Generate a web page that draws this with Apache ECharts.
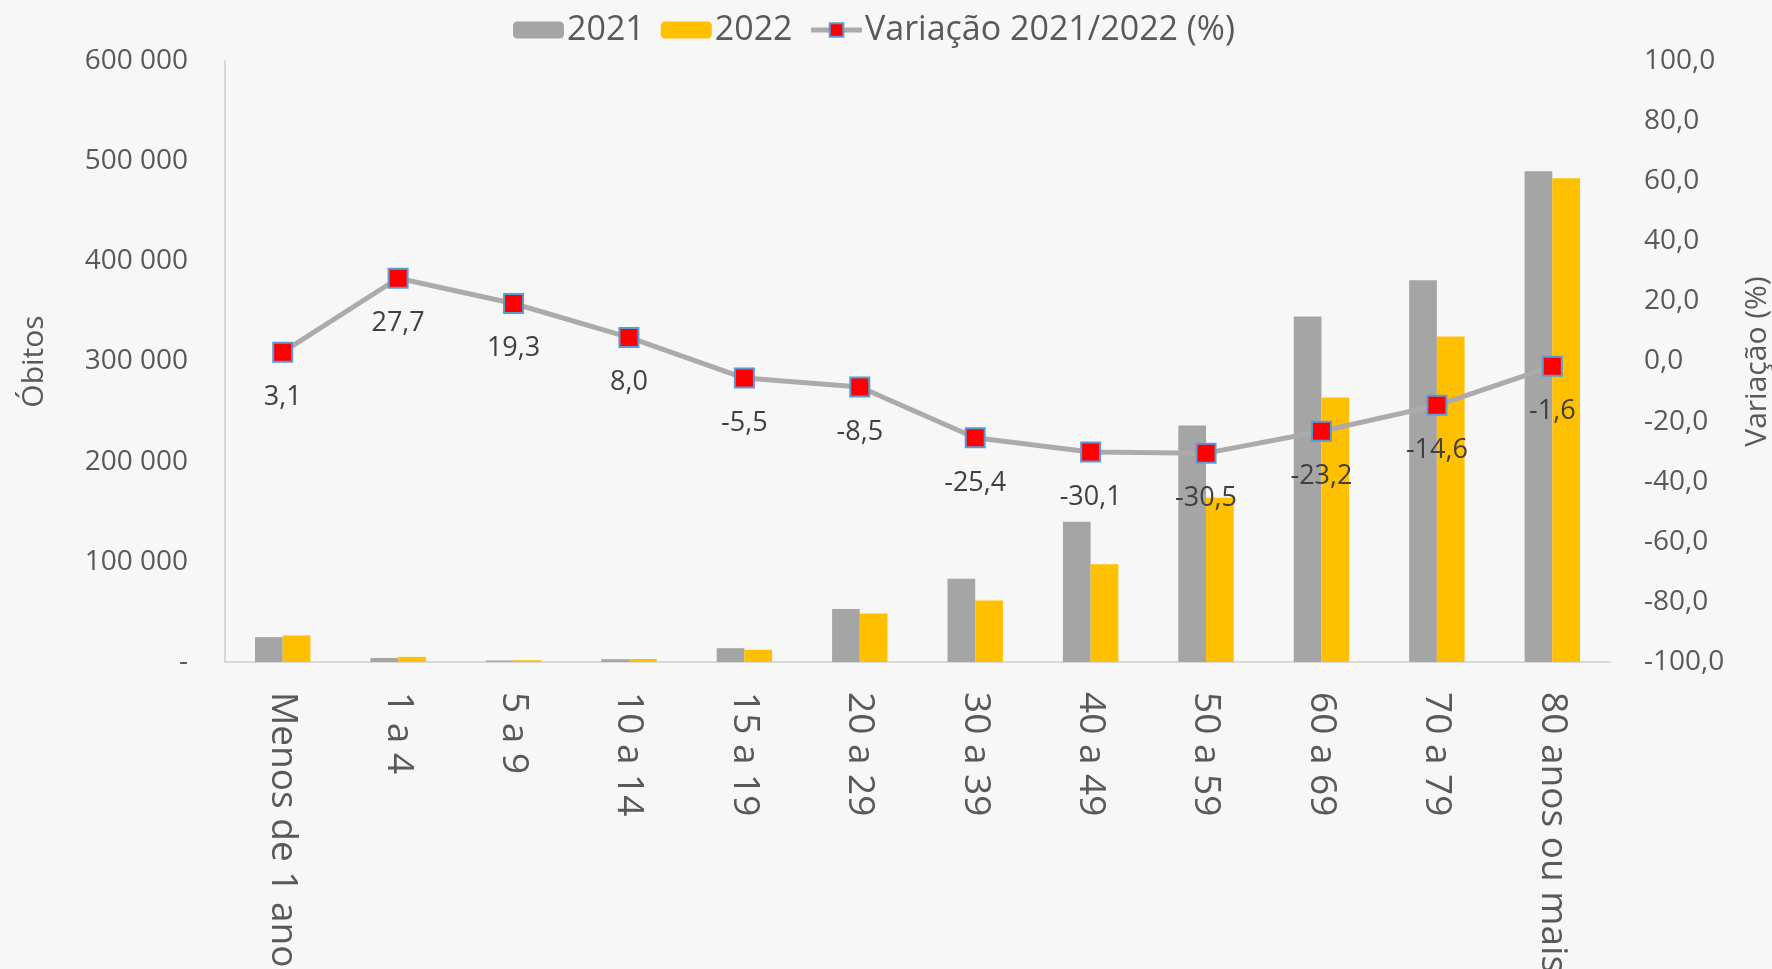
<!DOCTYPE html>
<html>
<head>
<meta charset="utf-8">
<title>Óbitos por faixa etária 2021/2022</title>
<script src="https://cdn.jsdelivr.net/npm/echarts@6/dist/echarts.min.js"></script>
<style>
  html, body { margin: 0; padding: 0; background: #f7f7f7; }
  #chart { width: 1772px; height: 969px; }
</style>
</head>
<body>
<div id="chart"></div>
<script>
// Faixas etárias
const categories = ['Menos de 1 ano', '1 a 4', '5 a 9', '10 a 14', '15 a 19', '20 a 29',
  '30 a 39', '40 a 49', '50 a 59', '60 a 69', '70 a 79', '80 anos ou mais'];

// Óbitos por ano
const obitos2021 = [24800, 4000, 1500, 2800, 13800, 53000, 83000, 140000, 236000, 345000, 381000, 490000];
const obitos2022 = [26500, 5100, 1800, 3000, 12200, 48500, 61500, 97500, 164000, 264000, 325000, 483000];

// Variação 2021/2022 (%)
const variacao = [3.1, 27.7, 19.3, 8.0, -5.5, -8.5, -25.4, -30.1, -30.5, -23.2, -14.6, -1.6];

const FONT = "'Open Sans', 'Noto Sans', sans-serif";
const TXT = '#595959';

const fmtMil = v => v === 0 ? '-' : String(v).replace(/\B(?=(\d{3})+(?!\d))/g, ' ');
const fmtPct = v => Number(v).toFixed(1).replace('.', ',');

const chart = echarts.init(document.getElementById('chart'), null, { renderer: 'canvas' });

chart.setOption({
  backgroundColor: '#f7f7f7',
  animation: false,
  textStyle: { fontFamily: FONT },
  legend: {
    left: 508,
    top: 8,
    itemWidth: 51,
    itemHeight: 17,
    itemGap: 16,
    textStyle: { fontFamily: FONT, fontSize: 34, color: TXT, padding: [0, 0, 0, -2] },
    data: [
      '2021',
      '2022',
      { name: 'Variação 2021/2022 (%)', lineStyle: { width: 5 } }
    ]
  },
  grid: {
    left: 225, right: 162, top: 61, bottom: 307,
    containLabel: false,
    outerBoundsMode: 'none'
  },
  xAxis: {
    type: 'category',
    data: categories,
    axisLine: { lineStyle: { color: '#d9d9d9', width: 2 } },
    axisTick: { show: false },
    axisLabel: {
      rotate: -90,
      interval: 0,
      margin: 30,
      fontFamily: FONT,
      fontSize: 37,
      color: TXT
    }
  },
  yAxis: [
    {
      type: 'value',
      min: 0,
      max: 600000,
      interval: 100000,
      name: 'Óbitos',
      nameLocation: 'middle',
      nameRotate: 90,
      nameGap: 176,
      nameTextStyle: { fontFamily: FONT, fontSize: 30, color: TXT },
      axisLine: { show: true, lineStyle: { color: '#d9d9d9', width: 2 } },
      axisTick: { show: false },
      splitLine: { show: false },
      axisLabel: { margin: 37, fontFamily: FONT, fontSize: 28, color: TXT, formatter: fmtMil }
    },
    {
      type: 'value',
      min: -100,
      max: 100,
      interval: 20,
      name: 'Variação (%)',
      nameLocation: 'middle',
      nameRotate: 90,
      nameGap: 132,
      nameTextStyle: { fontFamily: FONT, fontSize: 30, color: TXT },
      axisLine: { show: false },
      axisTick: { show: false },
      splitLine: { show: false },
      axisLabel: { margin: 34, fontFamily: FONT, fontSize: 28, color: TXT, formatter: fmtPct }
    }
  ],
  series: [
    {
      name: '2021',
      type: 'bar',
      data: obitos2021,
      barGap: '0%',
      barCategoryGap: '52%',
      itemStyle: { color: '#a5a5a5' }
    },
    {
      name: '2022',
      type: 'bar',
      data: obitos2022,
      itemStyle: { color: '#ffc000' }
    },
    {
      name: 'Variação 2021/2022 (%)',
      type: 'line',
      yAxisIndex: 1,
      data: variacao,
      z: 5,
      symbol: 'rect',
      symbolSize: 19,
      lineStyle: { color: '#aeaaaa', width: 5 },
      itemStyle: { color: '#ff0000', borderColor: '#5b9bd5', borderWidth: 2 },
      label: {
        show: true,
        position: 'bottom',
        distance: 21,
        fontFamily: FONT,
        fontSize: 27,
        color: '#404040',
        formatter: p => fmtPct(p.value)
      }
    }
  ]
});
</script>
</body>
</html>
